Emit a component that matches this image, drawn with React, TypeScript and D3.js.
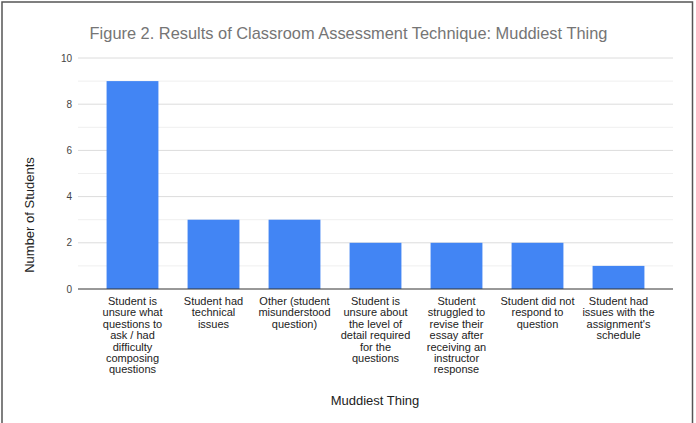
import React from "react";
import * as d3 from "d3";

const categories: string[][] = [
  ["Student is", "unsure what", "questions to", "ask / had", "difficulty", "composing", "questions"],
  ["Student had", "technical", "issues"],
  ["Other (student", "misunderstood", "question)"],
  ["Student is", "unsure about", "the level of", "detail required", "for the", "questions"],
  ["Student", "struggled to", "revise their", "essay after", "receiving an", "instructor", "response"],
  ["Student did not", "respond to", "question"],
  ["Student had", "issues with the", "assignment's", "schedule"],
];
const values: number[] = [9, 3, 3, 2, 2, 2, 1];
const majorTicks: number[] = [0, 2, 4, 6, 8, 10];
const minorTicks: number[] = [1, 3, 5, 7, 9];

const W = 696;
const H = 423;
const FONT = "'Liberation Sans', Arial, sans-serif";

export default function App() {
  const idx = values.map((_, i) => String(i));
  const x = d3.scaleBand<string>().domain(idx).range([92, 659]).paddingInner(0.36).paddingOuter(0.18);
  const y = d3.scaleLinear().domain([0, 10]).range([289, 58]);
  const gx0 = 78;
  const gx1 = 673;

  return (
    <svg
      width={W}
      height={H}
      style={{ position: "absolute", left: 0, top: 0, background: "#fff" }}
      fontFamily={FONT}
    >
      <rect x={2} y={2} width={690.5} height={430} fill="#fff" stroke="#555" strokeWidth={1.5} />
      <text x={348.5} y={39} textAnchor="middle" fontSize={16.4} fill="#757575">
        Figure 2. Results of Classroom Assessment Technique: Muddiest Thing
      </text>
      {minorTicks.map((t) => (
        <line key={"m" + t} x1={gx0} x2={gx1} y1={y(t)} y2={y(t)} stroke="#efefef" strokeWidth={1} />
      ))}
      {majorTicks.map((t) => (
        <g key={"t" + t}>
          {t !== 0 && (
            <line x1={gx0} x2={gx1} y1={y(t)} y2={y(t)} stroke="#dcdcdc" strokeWidth={1} />
          )}
          <text x={72} y={y(t) + 3.5} textAnchor="end" fontSize={10} fill="#444">
            {t}
          </text>
        </g>
      ))}
      {values.map((v, i) => (
        <rect
          key={"b" + i}
          x={x(String(i))}
          y={y(v)}
          width={x.bandwidth()}
          height={y(0) - y(v)}
          fill="#4285f4"
        />
      ))}
      <line x1={gx0} x2={gx1} y1={y(0)} y2={y(0)} stroke="#333" strokeWidth={1} />
      {categories.map((lines, i) => (
        <text
          key={"c" + i}
          x={(x(String(i)) as number) + x.bandwidth() / 2}
          y={305}
          textAnchor="middle"
          fontSize={11}
          fill="#222"
        >
          {lines.map((l, j) => (
            <tspan key={j} x={(x(String(i)) as number) + x.bandwidth() / 2} dy={j === 0 ? 0 : 11.4}>
              {l}
            </tspan>
          ))}
        </text>
      ))}
      <text x={375} y={405} textAnchor="middle" fontSize={13} fill="#222">
        Muddiest Thing
      </text>
      <text
        transform={`translate(34, 215) rotate(-90)`}
        textAnchor="middle"
        fontSize={13}
        fill="#222"
      >
        Number of Students
      </text>
    </svg>
  );
}
